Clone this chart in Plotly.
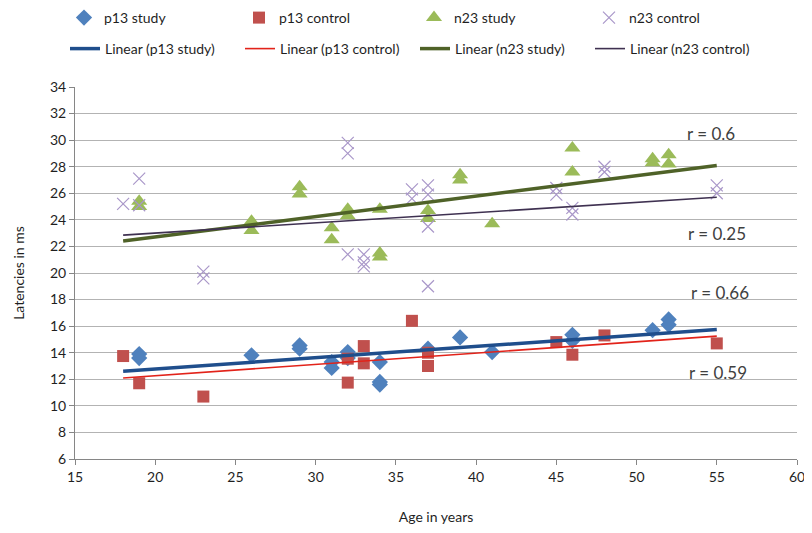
import plotly.graph_objects as go

# ---------------- data ----------------
p13_study_age = [19, 19, 26, 29, 29, 31, 31, 32, 32, 34, 34, 34, 37, 39, 41, 46, 46, 51, 52, 52]
p13_study_ms = [13.9, 13.6, 13.8, 14.55, 14.3, 13.3, 12.85, 14.05, 13.6, 13.3, 11.8, 11.6, 14.3, 15.15, 14.05, 15.35, 14.9, 15.7, 16.5, 16.1]

p13_control_age = [18, 19, 23, 32, 32, 33, 33, 36, 37, 37, 45, 46, 48, 55]
p13_control_ms = [13.75, 11.7, 10.7, 13.55, 11.75, 14.5, 13.2, 16.4, 14.0, 13.0, 14.8, 13.85, 15.3, 14.7]

n23_study_age = [19, 19, 26, 26, 29, 29, 31, 31, 32, 32, 34, 34, 34, 37, 37, 39, 39, 41, 46, 46, 51, 51, 52, 52]
n23_study_ms = [25.4, 25.0, 23.9, 23.2, 26.5, 25.95, 23.4, 22.5, 24.8, 24.3, 24.8, 21.5, 21.2, 24.7, 24.1, 27.4, 27.0, 23.7, 29.4, 27.6, 28.6, 28.3, 28.9, 28.2]

n23_control_age = [18, 19, 19, 23, 23, 32, 32, 32, 33, 33, 33, 36, 36, 37, 37, 37, 37, 45, 45, 46, 46, 48, 48, 55, 55]
n23_control_ms = [25.2, 27.1, 25.1, 20.1, 19.6, 29.8, 29.0, 21.4, 21.4, 20.8, 20.5, 26.3, 25.6, 26.6, 25.9, 23.5, 19.0, 26.4, 25.9, 24.9, 24.4, 28.0, 27.6, 26.6, 26.0]

# linear trend lines (end points)
trend_age = [18, 55]
p13_study_trend = [12.6, 15.75]
p13_control_trend = [12.1, 15.25]
n23_study_trend = [22.4, 28.1]
n23_control_trend = [22.85, 25.7]

r_labels = ["r = 0.6", "r = 0.25", "r = 0.66", "r = 0.59"]
r_label_age = [54.65, 55.0, 55.2, 55.1]
r_label_ms = [30.5, 23.0, 18.5, 12.5]

x_ticks = [15, 20, 25, 30, 35, 40, 45, 50, 55, 60]
y_ticks = [6, 8, 10, 12, 14, 16, 18, 20, 22, 24, 26, 28, 30, 32, 34]

FONT = "Lato, 'Open Sans', sans-serif"
TXT = "#1f1f1f"
W, H = 804, 517   # page body has an 8px margin

fig = go.Figure()

fig.add_trace(go.Scatter(x=p13_study_age, y=p13_study_ms, mode="markers", name="p13 study",
                         marker=dict(symbol="diamond", size=12.5, color="#4F81BD"), legend="legend"))
fig.add_trace(go.Scatter(x=p13_control_age, y=p13_control_ms, mode="markers", name="p13 control",
                         marker=dict(symbol="square", size=12, color="#C0504D"), legend="legend"))
fig.add_trace(go.Scatter(x=n23_study_age, y=n23_study_ms, mode="markers", name="n23 study",
                         marker=dict(symbol="triangle-up", size=14, color="#9BBB59"), legend="legend"))
fig.add_trace(go.Scatter(x=n23_control_age, y=n23_control_ms, mode="markers", name="n23 control",
                         marker=dict(symbol="x-thin-open", size=12, color="#A997C9",
                                     line=dict(width=1.2, color="#A997C9")), legend="legend"))

fig.add_trace(go.Scatter(x=trend_age, y=p13_study_trend, mode="lines", name="Linear (p13 study)",
                         line=dict(color="#1F4E8C", width=3.5), legend="legend2"))
fig.add_trace(go.Scatter(x=trend_age, y=p13_control_trend, mode="lines", name="Linear (p13 control)",
                         line=dict(color="#E2231A", width=1.6), legend="legend2"))
fig.add_trace(go.Scatter(x=trend_age, y=n23_study_trend, mode="lines", name="Linear (n23 study)",
                         line=dict(color="#4F6228", width=3.5), legend="legend2"))
fig.add_trace(go.Scatter(x=trend_age, y=n23_control_trend, mode="lines", name="Linear (n23 control)",
                         line=dict(color="#3F3151", width=1.6), legend="legend2"))

for t, xa, ya in zip(r_labels, r_label_age, r_label_ms):
    fig.add_annotation(x=xa, y=ya, text=t, showarrow=False, xref="x", yref="y",
                       font=dict(family=FONT, size=17, color="#404040"))

fig.update_layout(
    width=W, height=H,
    margin=dict(l=67, r=15, t=79, b=66, autoexpand=False),
    paper_bgcolor="white", plot_bgcolor="white",
    font=dict(family=FONT, size=14, color=TXT),
    legend=dict(orientation="h", xref="container", yref="container", x=56 / W, y=1 - 10 / H,
                xanchor="left", yanchor="middle", entrywidth=130, entrywidthmode="pixels",
                font=dict(family=FONT, size=14, color=TXT), bgcolor="rgba(0,0,0,0)"),
    legend2=dict(orientation="h", xref="container", yref="container", x=57 / W, y=1 - 41 / H,
                 xanchor="left", yanchor="middle", entrywidth=130, entrywidthmode="pixels",
                 font=dict(family=FONT, size=14, color=TXT), bgcolor="rgba(0,0,0,0)"),
    xaxis=dict(range=[15, 60], tickvals=x_ticks, ticktext=[str(v) for v in x_ticks],
               showgrid=False, zeroline=False, showline=True, linecolor="#868686", linewidth=1,
               ticks="outside", ticklen=5, tickcolor="#868686", automargin=False,
               ticklabeloverflow="allow",
               tickfont=dict(family=FONT, size=14, color=TXT),
               title=dict(text="Age in years", font=dict(family=FONT, size=14, color=TXT), standoff=31)),
    yaxis=dict(range=[6, 34], tickvals=y_ticks, ticktext=[str(v) for v in y_ticks],
               showgrid=True, gridcolor="#B3B3B3", gridwidth=1, zeroline=False,
               showline=True, linecolor="#868686", linewidth=1,
               ticks="outside", ticklen=5, tickcolor="#868686", automargin=False,
               tickfont=dict(family=FONT, size=14, color=TXT),
               title=dict(text="Latencies in ms", font=dict(family=FONT, size=14, color=TXT), standoff=22)),
)

fig.write_html("out.html")
